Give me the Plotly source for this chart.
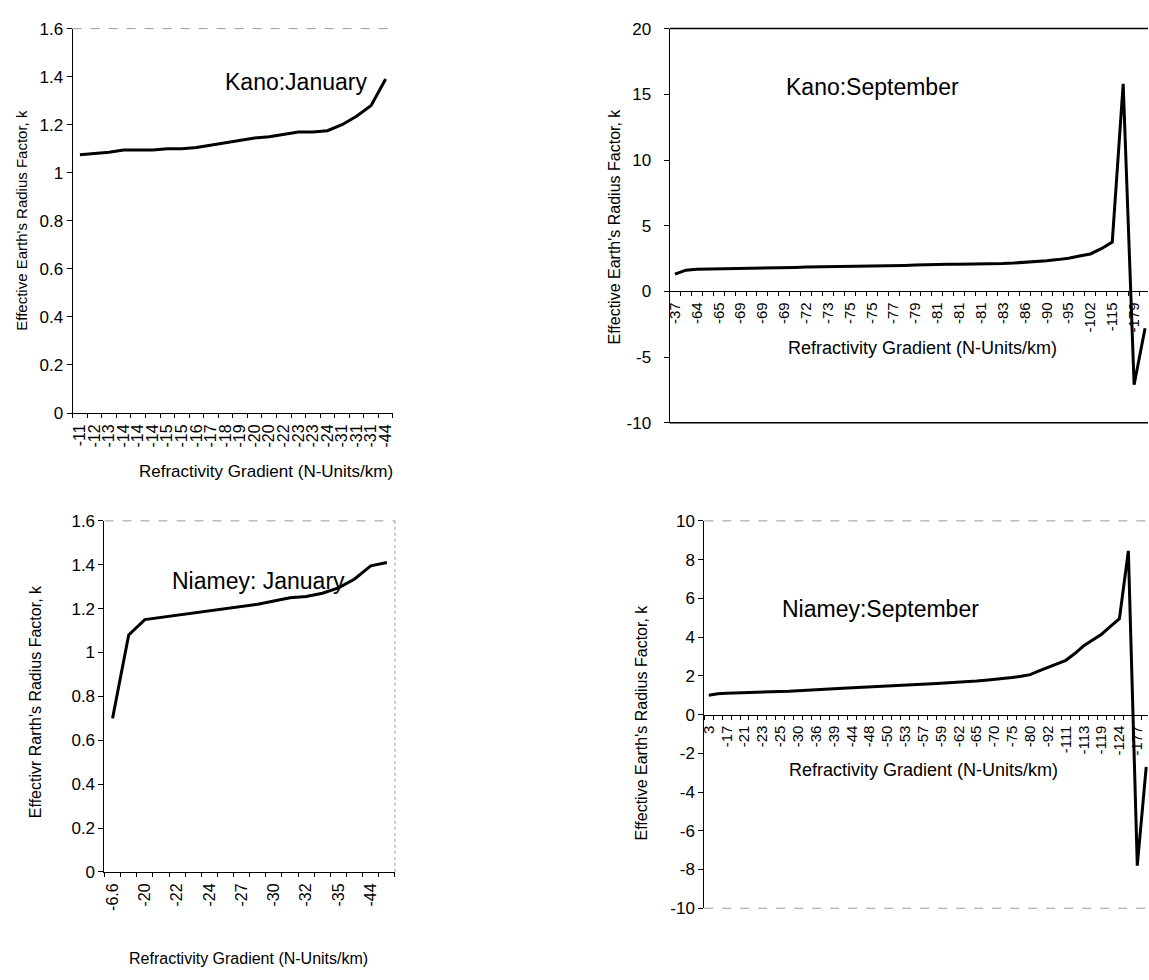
import plotly.graph_objects as go

W, H = 1149, 980
FONT = "Liberation Sans, Arial, sans-serif"

# ---- Kano : January (one label per category) ----
kano_jan_labels = ["-11", "-12", "-13", "-14", "-14", "-14", "-15", "-15", "-16", "-17", "-18",
                   "-19", "-20", "-20", "-22", "-23", "-23", "-24", "-31", "-31", "-31", "-44"]
kano_jan_k = [1.075, 1.08, 1.085, 1.095, 1.095, 1.095, 1.10, 1.10, 1.105, 1.115, 1.125,
              1.135, 1.145, 1.15, 1.16, 1.17, 1.17, 1.175, 1.20, 1.235, 1.28, 1.39]

# ---- Kano : September (label on every second category) ----
kano_sep_labels = ["-37", "-64", "-65", "-69", "-69", "-69", "-72", "-73", "-75", "-75", "-77",
                   "-79", "-81", "-81", "-81", "-83", "-86", "-90", "-95", "-102", "-115", "-179"]
kano_sep_k = [1.31, 1.62, 1.69, 1.70, 1.71, 1.74, 1.78, 1.78, 1.78, 1.78, 1.78,
              1.82, 1.85, 1.86, 1.87, 1.89, 1.91, 1.91, 1.91, 1.93, 1.96, 1.98,
              2.01, 2.04, 2.07, 2.07, 2.07, 2.07, 2.07, 2.09, 2.12, 2.16, 2.21,
              2.27, 2.34, 2.42, 2.53, 2.70, 2.85, 3.25, 3.75, 15.8, -7.1, -2.8]

# ---- Niamey : January (label on every second category) ----
niamey_jan_labels = ["-6.6", "-20", "-22", "-24", "-27", "-30", "-32", "-35", "-44"]
niamey_jan_k = [0.70, 1.08, 1.15, 1.16, 1.17, 1.18, 1.19, 1.20, 1.21,
                1.22, 1.235, 1.25, 1.255, 1.27, 1.295, 1.335, 1.395, 1.41]

# ---- Niamey : September (label on every second category) ----
niamey_sep_labels = ["3", "-17", "-21", "-23", "-25", "-30", "-36", "-39", "-44", "-48", "-50",
                     "-53", "-57", "-59", "-62", "-65", "-70", "-75", "-80", "-92", "-111",
                     "-113", "-119", "-124", "-177"]
niamey_sep_k = [1.00, 1.07, 1.10, 1.12, 1.14, 1.15, 1.17, 1.18, 1.19, 1.20,
                1.22, 1.26, 1.29, 1.31, 1.33, 1.36, 1.38, 1.40, 1.43, 1.45,
                1.47, 1.49, 1.51, 1.54, 1.57, 1.59, 1.62, 1.64, 1.67, 1.70,
                1.73, 1.77, 1.81, 1.86, 1.91, 1.98, 2.06, 2.25, 2.45, 2.62,
                2.80, 3.15, 3.55, 3.85, 4.15, 4.55, 4.95, 8.45, -7.8, -2.7]

# y tick values for each panel
jan_yticks = [0, 0.2, 0.4, 0.6, 0.8, 1.0, 1.2, 1.4, 1.6]
kano_sep_yticks = [-10, -5, 0, 5, 10, 15, 20]
niamey_sep_yticks = [-10, -8, -6, -4, -2, 0, 2, 4, 6, 8, 10]


def fx(px):
    return px / W


def fy(py):
    return 1 - py / H


def fmt(v):
    return "%g" % v


panels = [
    dict(name="Kano:January", labels=kano_jan_labels, k=kano_jan_k, step=1,
         box=(68, 390, 20, 412), yr=(0, 1.6), yt=jan_yticks, xend=None,
         title_xy=(293, 74), xt_xy=(262, 472), yt_xy=(17, 215),
         ytitle="Effective Earth's Radius Factor, k", xt_size=17, xtick=16,
         ysize=15, ystand=0),
    dict(name="Kano:September", labels=kano_sep_labels, k=kano_sep_k, step=2,
         box=(668, 1149, 20, 422), yr=(-10, 20), yt=kano_sep_yticks, xend=43.27,
         title_xy=(872, 80), xt_xy=(922, 346), yt_xy=(613, 222),
         ytitle="Effective Earth's Radius Factor, k", xt_size=18, xtick=15,
         ysize=16, ystand=9),
    dict(name="Niamey: January", labels=niamey_jan_labels, k=niamey_jan_k, step=2,
         box=(100, 392, 522, 880), yr=(0, 1.6), yt=jan_yticks, xend=None,
         title_xy=(255, 583), xt_xy=(245, 968), yt_xy=(30, 706),
         ytitle="Effectivr Rarth's Radius Factor, k", xt_size=16, xtick=16,
         ysize=16, ystand=0),
    dict(name="Niamey:September", labels=niamey_sep_labels, k=niamey_sep_k, step=2,
         box=(703, 1149, 522, 917), yr=(-10, 10), yt=niamey_sep_yticks, xend=49.2,
         title_xy=(880, 612), xt_xy=(923, 776), yt_xy=(640, 728),
         ytitle="Effective Earth's Radius Factor, k", xt_size=18, xtick=15,
         ysize=16, ystand=0),
]

fig = go.Figure()
layout = dict(width=W, height=H, margin=dict(l=0, r=0, t=0, b=0),
              paper_bgcolor="white", plot_bgcolor="white", showlegend=False,
              font=dict(family=FONT, color="black", size=15))
annotations = []
shapes = []

for i, p in enumerate(panels, start=1):
    n = len(p["k"])
    left, right, top, bottom = p["box"]
    y0, y1 = p["yr"]
    xend = p["xend"] if p["xend"] is not None else n - 0.5
    xs = list(range(n))
    fig.add_trace(go.Scatter(x=xs, y=p["k"], mode="lines",
                             line=dict(color="black", width=3),
                             xaxis="x%d" % i, yaxis="y%d" % i, hoverinfo="skip"))

    dom_y = [fy(bottom), fy(top)]
    xa = dict(domain=[fx(left), fx(right)], range=[-0.5, xend],
              showline=True, linecolor="black", linewidth=1,
              showgrid=False, zeroline=False,
              tickmode="array",
              tickvals=[j * p["step"] for j in range(len(p["labels"]))],
              ticktext=p["labels"], tickangle=-90,
              ticks="outside", ticklen=4, tickcolor="rgba(0,0,0,0)",
              tickfont=dict(family=FONT, size=p["xtick"], color="black"),
              minor=dict(tickmode="array", tickvals=[j - 0.5 for j in range(n + 1)],
                         ticks="outside", ticklen=4, tickcolor="black", tickwidth=1))
    if y0 < 0:
        # category axis crosses the value axis at zero
        pos = dom_y[0] + (0 - y0) / (y1 - y0) * (dom_y[1] - dom_y[0])
        xa.update(anchor="free", position=pos)
    else:
        xa.update(anchor="y%d" % i)
    ya = dict(domain=dom_y, range=[y0, y1], anchor="x%d" % i,
              showline=True, linecolor="black", linewidth=1,
              showgrid=False, zeroline=False,
              tickmode="array", tickvals=p["yt"], ticktext=[fmt(v) for v in p["yt"]],
              ticks="outside", ticklen=5, tickcolor="black",
              ticklabelstandoff=p["ystand"],
              tickfont=dict(family=FONT, size=17, color="black"))
    key = "" if i == 1 else str(i)
    layout["xaxis" + key] = xa
    layout["yaxis" + key] = ya

    # chart title inside the plot area
    annotations.append(dict(text=p["name"], x=fx(p["title_xy"][0]), y=fy(p["title_xy"][1]),
                            xref="paper", yref="paper", showarrow=False,
                            xanchor="center", yanchor="middle",
                            font=dict(family=FONT, size=23, color="black")))
    annotations.append(dict(text="Refractivity Gradient (N-Units/km)",
                            x=fx(p["xt_xy"][0]), y=fy(p["xt_xy"][1]),
                            xref="paper", yref="paper", showarrow=False,
                            xanchor="center", yanchor="middle",
                            font=dict(family=FONT, size=p["xt_size"], color="black")))
    annotations.append(dict(text=p["ytitle"], x=fx(p["yt_xy"][0]), y=fy(p["yt_xy"][1]),
                            xref="paper", yref="paper", showarrow=False, textangle=-90,
                            xanchor="center", yanchor="middle",
                            font=dict(family=FONT, size=p["ysize"], color="black")))

# plot-area borders
gray = "#9a9a9a"
shapes += [
    dict(type="line", xref="paper", yref="paper", x0=fx(68), x1=fx(390), y0=fy(20), y1=fy(20),
         line=dict(color=gray, width=1, dash="dash")),
    dict(type="line", xref="paper", yref="paper", x0=fx(668), x1=1, y0=fy(20), y1=fy(20),
         line=dict(color="black", width=1.5)),
    dict(type="line", xref="paper", yref="paper", x0=fx(668), x1=1, y0=fy(422), y1=fy(422),
         line=dict(color="black", width=1.5)),
    dict(type="line", xref="paper", yref="paper", x0=fx(100), x1=fx(392), y0=fy(522), y1=fy(522),
         line=dict(color=gray, width=1, dash="dash")),
    dict(type="line", xref="paper", yref="paper", x0=fx(392), x1=fx(392), y0=fy(522), y1=fy(880),
         line=dict(color=gray, width=1, dash="dot")),
    dict(type="line", xref="paper", yref="paper", x0=fx(703), x1=1, y0=fy(522), y1=fy(522),
         line=dict(color=gray, width=1, dash="dash")),
    dict(type="line", xref="paper", yref="paper", x0=fx(703), x1=1, y0=fy(917), y1=fy(917),
         line=dict(color=gray, width=1, dash="dash")),
]

layout["annotations"] = annotations
layout["shapes"] = shapes
fig.update_layout(**layout)
fig.write_html("out.html")
